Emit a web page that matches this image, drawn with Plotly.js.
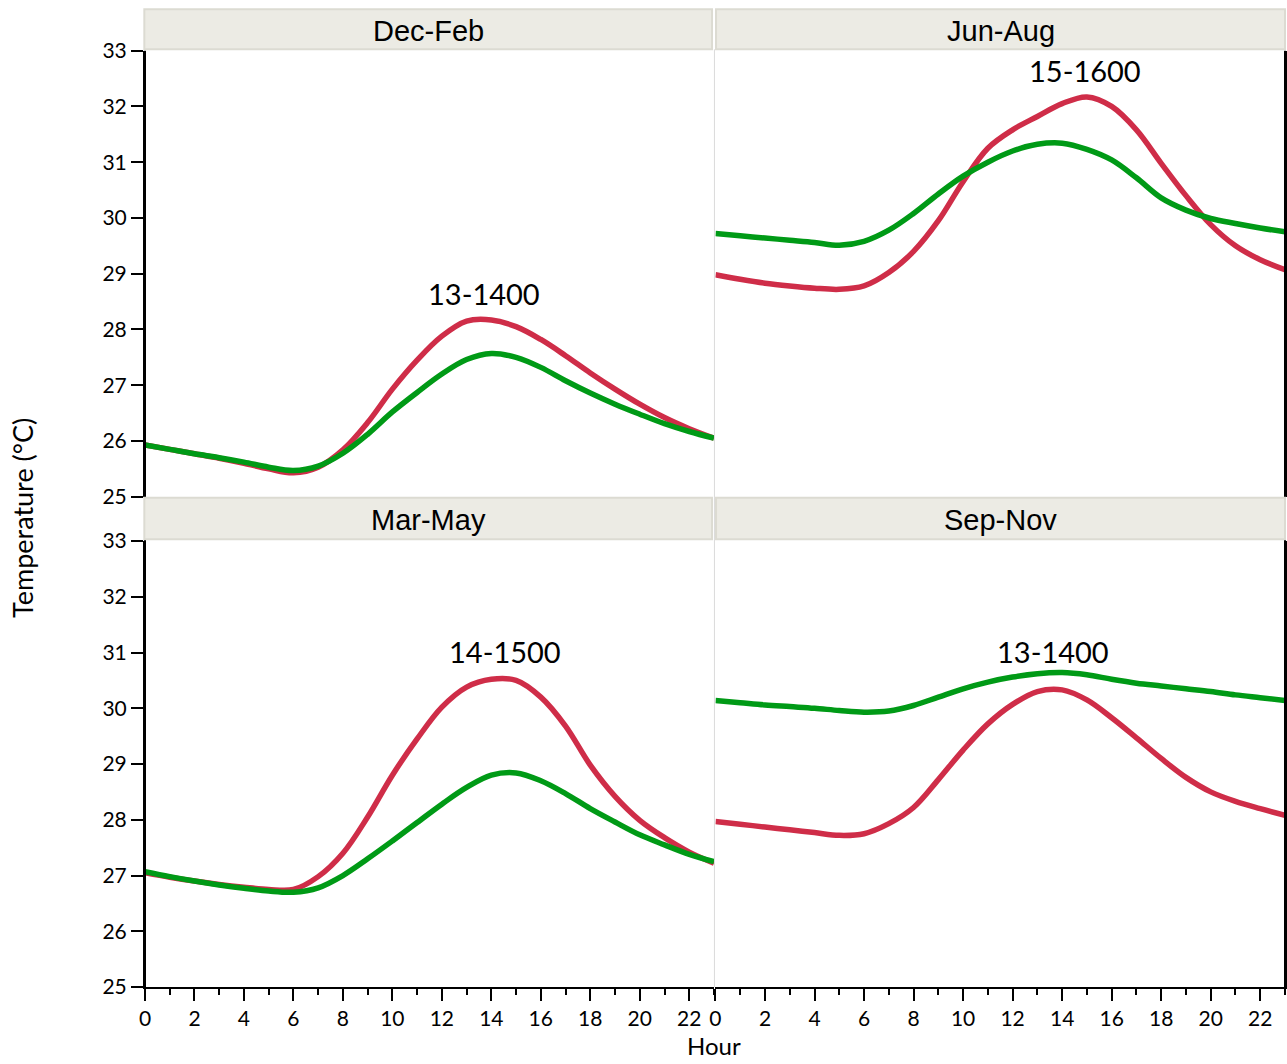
<!DOCTYPE html>
<html>
<head>
<meta charset="utf-8">
<script src="https://cdn.plot.ly/plotly-3.0.1.min.js"></script>
<style>html,body{margin:0;padding:0;background:#fff;}#chart{width:1287px;height:1064px;}</style>
</head>
<body>
<div id="chart"></div>
<script>
// ---- data ----
const hours = [0,1,2,3,4,5,6,7,8,9,10,11,12,13,14,15,16,17,18,19,20,21,22,23];
const panelNames = ["Dec-Feb", "Jun-Aug", "Mar-May", "Sep-Nov"];
const peakLabels = ["13-1400", "15-1600", "14-1500", "13-1400"];

const decFebRed   = [25.93,25.85,25.77,25.69,25.60,25.50,25.43,25.53,25.84,26.33,26.93,27.45,27.88,28.15,28.17,28.05,27.82,27.53,27.22,26.93,26.66,26.42,26.22,26.05];
const decFebGreen = [25.93,25.85,25.77,25.70,25.62,25.53,25.47,25.55,25.78,26.12,26.52,26.87,27.20,27.46,27.57,27.50,27.32,27.08,26.86,26.66,26.48,26.31,26.17,26.05];

const junAugRed   = [28.98,28.90,28.83,28.78,28.74,28.72,28.78,29.02,29.40,29.95,30.65,31.25,31.58,31.82,32.05,32.17,32.00,31.58,30.98,30.40,29.88,29.50,29.25,29.07];
const junAugGreen = [29.72,29.68,29.64,29.60,29.56,29.51,29.58,29.78,30.08,30.43,30.75,31.00,31.20,31.32,31.34,31.23,31.04,30.72,30.36,30.14,29.99,29.90,29.82,29.75];

const marMayRed   = [27.05,26.97,26.90,26.84,26.79,26.75,26.75,26.98,27.40,28.05,28.80,29.45,30.02,30.38,30.52,30.50,30.20,29.68,28.98,28.42,27.99,27.68,27.42,27.22];
const marMayGreen = [27.07,26.98,26.90,26.83,26.77,26.72,26.70,26.78,27.00,27.30,27.62,27.95,28.28,28.58,28.80,28.84,28.70,28.47,28.20,27.96,27.73,27.55,27.38,27.25];

const sepNovRed   = [27.97,27.92,27.87,27.82,27.77,27.72,27.75,27.93,28.22,28.72,29.25,29.72,30.07,30.30,30.33,30.15,29.83,29.47,29.10,28.76,28.50,28.33,28.20,28.08];
const sepNovGreen = [30.14,30.10,30.06,30.03,30.00,29.96,29.93,29.95,30.05,30.20,30.35,30.47,30.56,30.62,30.64,30.60,30.52,30.45,30.40,30.35,30.30,30.24,30.19,30.14];

// ---- styling ----
const RED = "#CF2D48", GREEN = "#009A16";
const TICKFONT = {family: "Lato, 'Open Sans', sans-serif", size: 21, color: "#000"};
const STRIPFONT = {family: "'Liberation Sans', Arial, sans-serif", size: 29, color: "#000"};
const PEAKFONT = {family: "Lato, 'Open Sans', sans-serif", size: 29, color: "#000"};

// panel order: Dec-Feb (x3,y3), Jun-Aug (x4,y4), Mar-May (x,y), Sep-Nov (x2,y2)
const panels = [
  {red: decFebRed, green: decFebGreen, xa: "x3", ya: "y3"},
  {red: junAugRed, green: junAugGreen, xa: "x4", ya: "y4"},
  {red: marMayRed, green: marMayGreen, xa: "x",  ya: "y"},
  {red: sepNovRed, green: sepNovGreen, xa: "x2", ya: "y2"}
];

const traces = [];
panels.forEach(p => {
  traces.push({x: hours, y: p.red, xaxis: p.xa, yaxis: p.ya, type: "scatter", mode: "lines",
    line: {color: RED, width: 5.5, shape: "spline", smoothing: 1}, hoverinfo: "skip", showlegend: false});
  traces.push({x: hours, y: p.green, xaxis: p.xa, yaxis: p.ya, type: "scatter", mode: "lines",
    line: {color: GREEN, width: 5.5, shape: "spline", smoothing: 1}, hoverinfo: "skip", showlegend: false});
});

const LEFT = [0, 0.4991], RIGHT = [0.5004, 1];
const TOP = [0.5013, 0.9574], BOT = [0, 0.4560];

const bottomX = (dom, anchor) => ({
  domain: dom, anchor: anchor, range: [0, 23], showgrid: false, zeroline: false,
  showline: true, linecolor: "#000", linewidth: 2,
  ticks: "outside", ticklen: 12, tickwidth: 2, tickcolor: "#000",
  tick0: 0, dtick: 2, tickfont: TICKFONT,
  minor: {ticks: "outside", ticklen: 6, tickwidth: 2, tickcolor: "#000", dtick: 1, tick0: 0, showgrid: false}
});
const hiddenX = (dom, anchor) => ({domain: dom, anchor: anchor, range: [0, 23], visible: false});
const leftY = (dom, anchor) => ({
  domain: dom, anchor: anchor, range: [25, 33], showgrid: false, zeroline: false,
  showline: true, linecolor: "#000", linewidth: 2,
  ticks: "outside", ticklen: 12, tickwidth: 2, tickcolor: "#000",
  dtick: 1, tick0: 25, tickfont: TICKFONT
});
const rightY = (dom, anchor) => ({
  domain: dom, anchor: anchor, range: [25, 33], side: "right", showgrid: false, zeroline: false,
  showline: true, linecolor: "#000", linewidth: 2, ticks: "", showticklabels: false
});

// strip geometry in paper coords
const stripTop = [0.9588, 0.9997], stripBot = [0.4578, 0.5003];
const stripLeft = [-0.0006, 0.4974], stripRight = [0.5009, 1.0];
const strips = [
  [stripLeft, stripTop], [stripRight, stripTop], [stripLeft, stripBot], [stripRight, stripBot]
];

const shapes = [
  {type: "line", xref: "paper", yref: "paper", x0: 0.4995, x1: 0.4995, y0: 0, y1: 0.9588,
   line: {color: "#DADADA", width: 1}, layer: "below"},
  {type: "line", xref: "paper", yref: "paper", x0: 0, x1: 0, y0: 0, y1: 0.9574,
   line: {color: "#000", width: 2}},
  {type: "line", xref: "paper", yref: "paper", x0: 1, x1: 1, y0: 0, y1: 0.9574,
   line: {color: "#000", width: 2}}
];
strips.forEach(s => {
  shapes.push({type: "rect", xref: "paper", yref: "paper", x0: s[0][0], x1: s[0][1], y0: s[1][0], y1: s[1][1],
    fillcolor: "#ECEBE4", line: {color: "#DCDBD2", width: 2}, layer: "above"});
});

const annotations = [];
strips.forEach((s, i) => {
  annotations.push({xref: "paper", yref: "paper", x: (s[0][0] + s[0][1]) / 2, y: (s[1][0] + s[1][1]) / 2 - 0.002,
    text: panelNames[i], showarrow: false, font: STRIPFONT, xanchor: "center", yanchor: "middle"});
});
const peakPos = [[13.7, 28.64], [14.93, 32.64], [14.55, 31.01], [13.64, 31.01]];
panels.forEach((p, i) => {
  annotations.push({xref: p.xa, yref: p.ya, x: peakPos[i][0], y: peakPos[i][1], text: peakLabels[i],
    showarrow: false, font: PEAKFONT, xanchor: "center", yanchor: "middle"});
});
annotations.push({xref: "paper", yref: "paper", x: 0.4991, y: -0.0603, text: "Hour", showarrow: false,
  font: {family: "Lato, 'Open Sans', sans-serif", size: 24, color: "#000"}, xanchor: "center", yanchor: "middle"});
annotations.push({xref: "paper", yref: "paper", x: -0.107, y: 0.4796, text: "Temperature (°C)", showarrow: false,
  textangle: -90, font: {family: "Lato, 'Open Sans', sans-serif", size: 27, color: "#000"}, xanchor: "center", yanchor: "middle"});

const layout = {
  width: 1287, height: 1064,
  margin: {l: 145, r: 2, t: 9, b: 77, pad: 0},
  paper_bgcolor: "#fff", plot_bgcolor: "rgba(0,0,0,0)",
  showlegend: false,
  xaxis: bottomX(LEFT, "y"),
  xaxis2: bottomX(RIGHT, "y2"),
  xaxis3: hiddenX(LEFT, "y3"),
  xaxis4: hiddenX(RIGHT, "y4"),
  yaxis: leftY(BOT, "x"),
  yaxis2: rightY(BOT, "x2"),
  yaxis3: leftY(TOP, "x3"),
  yaxis4: rightY(TOP, "x4"),
  shapes: shapes,
  annotations: annotations
};

Plotly.newPlot("chart", traces, layout, {staticPlot: true, displayModeBar: false});
</script>
</body>
</html>
